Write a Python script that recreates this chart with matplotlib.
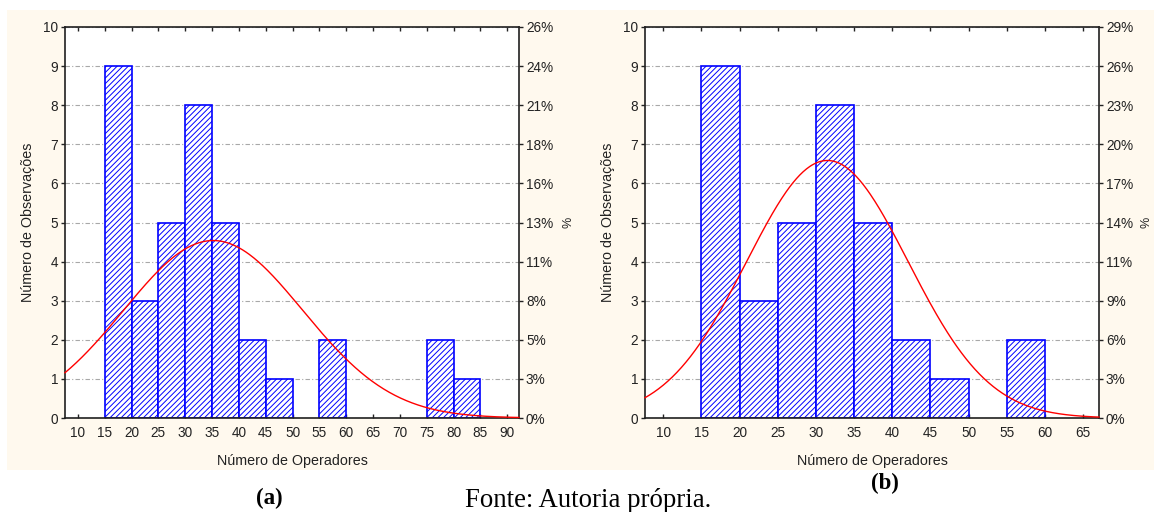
import numpy as np
import matplotlib
matplotlib.use("Agg")
import matplotlib.pyplot as plt
from matplotlib.patches import Rectangle
from matplotlib.ticker import FixedLocator, FixedFormatter

plt.rcParams['font.family'] = ['Liberation Sans', 'DejaVu Sans']
plt.rcParams['hatch.linewidth'] = 0.7

# Panel (a) - histogram bins (left edge, width 5) and counts
bins_a = [15, 20, 25, 30, 35, 40, 45, 55, 75, 80]
counts_a = [9, 3, 5, 8, 5, 2, 1, 2, 2, 1]
xticks_a = [10, 15, 20, 25, 30, 35, 40, 45, 50, 55, 60, 65, 70, 75, 80, 85, 90]
xlim_a = (7.6, 92.2)
mean_a, sd_a = 35.2, 16.7

# Panel (b)
bins_b = [15, 20, 25, 30, 35, 40, 45, 55]
counts_b = [9, 3, 5, 8, 5, 2, 1, 2]
xticks_b = [10, 15, 20, 25, 30, 35, 40, 45, 50, 55, 60, 65]
xlim_b = (7.6, 67.1)
mean_b, sd_b = 31.5, 10.6

bin_width = 5
yticks = list(range(11))

TXT = '#222222'
W, H = 1154, 512


def draw_panel(ax, bins, counts, xticks, xlim, mean, sd, pct_x):
    n_total = sum(counts)
    ax.set_facecolor('white')
    ax.bar(bins, counts, width=bin_width, align='edge', facecolor='white',
           edgecolor='blue', hatch='//////', linewidth=1.2, zorder=2)

    # fitted normal curve
    xs = np.linspace(xlim[0], xlim[1], 400)
    ys = n_total * bin_width * np.exp(-0.5 * ((xs - mean) / sd) ** 2) / (sd * np.sqrt(2 * np.pi))
    ax.plot(xs, ys, color='red', linewidth=1.0, zorder=4, clip_on=False)

    ax.set_xlim(*xlim)
    ax.set_ylim(0, 10)
    ax.set_xticks(xticks)
    ax.set_yticks(yticks)
    ax.grid(axis='y', color='#A8A8A8', linestyle=(0, (4, 2, 1, 2)), linewidth=0.8)
    ax.set_axisbelow(True)

    ax.tick_params(axis='x', direction='in', top=True, length=3, width=1,
                   labelsize=9.8, colors=TXT, pad=6)
    ax.tick_params(axis='y', direction='out', length=3, width=1,
                   labelsize=9.8, colors=TXT, pad=2)
    for sp in ax.spines.values():
        sp.set_color('#202020')
        sp.set_linewidth(1.2)

    ax.set_xlabel('Número de Operadores', fontsize=10.3, color=TXT, labelpad=10)
    ax.set_ylabel('Número de Observações', fontsize=10.3, color=TXT, labelpad=6)

    # right percentage axis
    ax2 = ax.twinx()
    ax2.set_ylim(0, 10)
    ax2.yaxis.set_major_locator(FixedLocator(yticks))
    ax2.yaxis.set_major_formatter(FixedFormatter(
        ['%d%%' % int(k * 100.0 / n_total + 0.5) for k in yticks]))
    ax2.tick_params(axis='y', direction='out', length=3, width=1,
                    labelsize=9.8, colors=TXT, pad=2)
    for sp in ax2.spines.values():
        sp.set_visible(False)
    fig.text(pct_x / W, 1 - 222 / H, '%', rotation=90, ha='center', va='center',
             fontsize=9, color=TXT)
    return ax2


fig = plt.figure(figsize=(W / 100, H / 100), dpi=100)
fig.patch.set_facecolor('white')
fig.patches.append(Rectangle((7 / W, 1 - 470 / H), 1147 / W, 460 / H,
                             transform=fig.transFigure, facecolor='#FFF9EE',
                             edgecolor='none', zorder=-1))

ax_a = fig.add_axes([65 / W, 1 - 418 / H, 454 / W, 391 / H])
ax_b = fig.add_axes([645 / W, 1 - 418 / H, 454 / W, 391 / H])

draw_panel(ax_a, bins_a, counts_a, xticks_a, xlim_a, mean_a, sd_a, 568)
draw_panel(ax_b, bins_b, counts_b, xticks_b, xlim_b, mean_b, sd_b, 1146)

fig.text(269 / W, 1 - 498 / H, '(a)', ha='center', va='center',
         family='Liberation Serif', weight='bold', fontsize=16.5, color='black')
fig.text(885 / W, 1 - 483 / H, '(b)', ha='center', va='center',
         family='Liberation Serif', weight='bold', fontsize=16.5, color='black')
fig.text(588 / W, 1 - 507 / H, 'Fonte: Autoria própria.', ha='center', va='baseline',
         family='Liberation Serif', fontsize=19.3, color='black')

fig.savefig('out.png', dpi=100)
